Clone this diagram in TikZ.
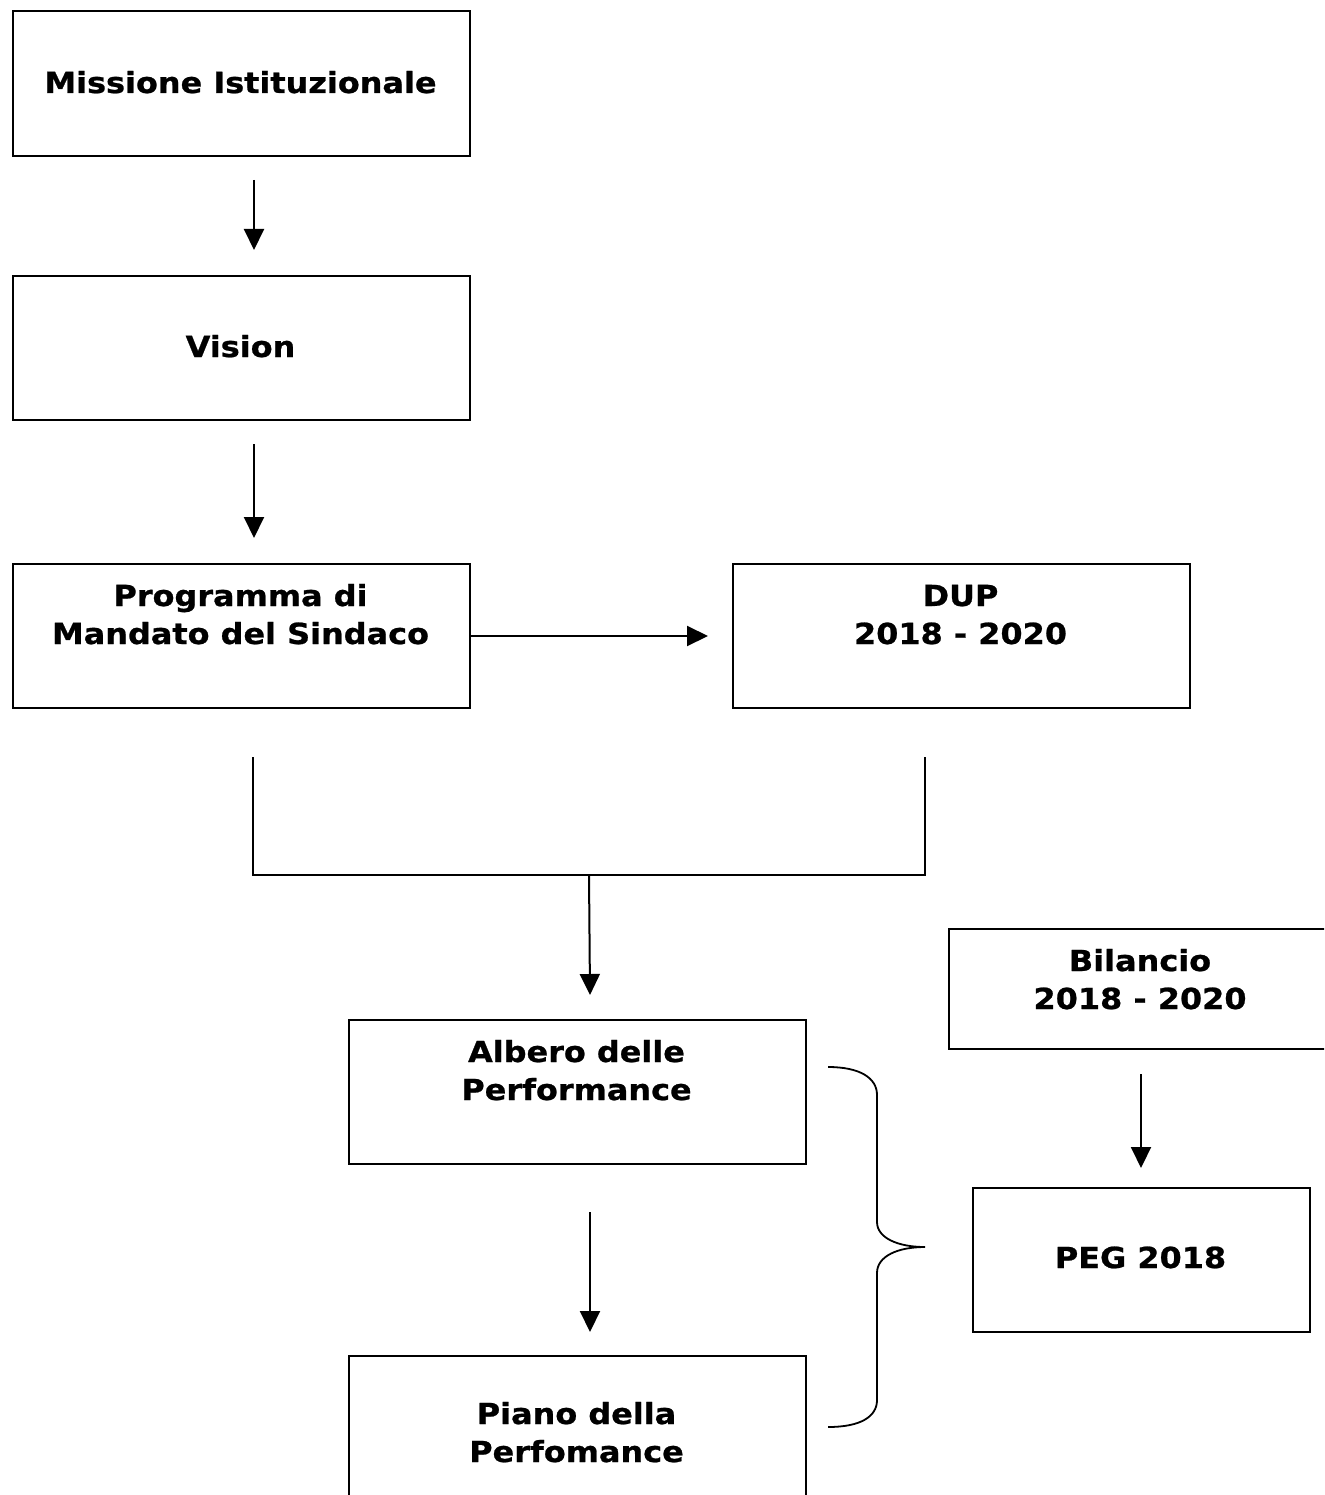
\documentclass[tikz,border=0pt]{standalone}
\usepackage{fontspec}
\setmainfont{DejaVu Sans}
\newfontfamily\vfont{DejaVu Sans Bold}[FakeStretch=1.1,FakeBold=0.8]
\usetikzlibrary{arrows.meta}
\begin{document}
\begin{tikzpicture}[x=1pt,y=-1pt,
  box/.style={draw, line width=2pt, inner sep=0pt, anchor=north west},
  txt/.style={font=\vfont\fontsize{29}{38}\selectfont, align=center, anchor=base, inner sep=0pt},
  arr/.style={line width=2pt, -{Triangle[length=21pt,width=20pt]}},
  ln/.style={line width=2pt}]
\useasboundingbox (0,0) rectangle (1324,1495);
\clip (0,0) rectangle (1324,1495);
% boxes
\node[box, minimum width=457pt, minimum height=145pt] (mis) at (12,10) {};
\node[box, minimum width=457pt, minimum height=144pt] (vis) at (12,275) {};
\node[box, minimum width=457pt, minimum height=144pt] (prog) at (12,563) {};
\node[box, minimum width=457pt, minimum height=144pt] (dup) at (732,563) {};
\node[box, minimum width=457pt, minimum height=144pt] (alb) at (348,1019) {};
\node[box, minimum width=457pt, minimum height=160pt] (pia) at (348,1355) {};
\node[box, minimum width=400pt, minimum height=120pt] (bil) at (948,928) {};
\node[box, minimum width=337pt, minimum height=144pt] (peg) at (972,1187) {};
% texts (anchor base = baseline of last line)
\node[txt] (tmis) at (240.5,93) {Missione Istituzionale};
\node[txt] (tvis) at (240.5,357) {Vision};
\node[txt] (tprog) at (240.5,644) {Programma di\\Mandato del Sindaco};
\node[txt] (tdup) at (960.5,644) {DUP\\2018 - 2020};
\node[txt] (talb) at (576.5,1100) {Albero delle\\Performance};
\node[txt] (tpia) at (576.5,1462) {Piano della\\Perfomance};
\node[txt] (tbil) at (1140,1009) {Bilancio\\2018 - 2020};
\node[txt] (tpeg) at (1140.5,1268) {PEG 2018};
% connectors
\draw[arr] ([xshift=12.5pt,yshift=-23pt]mis.south) -- ([xshift=12.5pt,yshift=25pt]vis.north);
\draw[arr] ([xshift=12.5pt,yshift=-23pt]vis.south) -- ([xshift=12.5pt,yshift=25pt]prog.north);
\draw[arr] (prog.east) -- ([xshift=-24pt]dup.west);
\coordinate (j) at (589,875);
\draw[ln] ([xshift=11.5pt,yshift=-48pt]prog.south) |- (j) -| ([xshift=-36.5pt,yshift=-48pt]dup.south);
\draw[arr] (j) -- ([xshift=12.5pt,yshift=24pt]alb.north);
\draw[arr] ([xshift=12.5pt,yshift=-47pt]alb.south) -- ([xshift=12.5pt,yshift=23pt]pia.north);
\draw[arr] ([xshift=-8pt,yshift=-24pt]bil.south) -- ([xshift=-0.5pt,yshift=19pt]peg.north);
% brace
\coordinate (btop) at (828,1067);
\coordinate (bbot) at (828,1427);
\draw[ln, line width=1.8pt] (btop) .. controls (860,1067) and (877,1078) .. (877,1095) -- (877,1222)
  .. controls (877,1238) and (898,1247) .. (925,1247) coordinate (btip)
  .. controls (898,1247) and (877,1256) .. (877,1273) -- (877,1400)
  .. controls (877,1417) and (860,1427) .. (bbot);
\end{tikzpicture}
\end{document}
